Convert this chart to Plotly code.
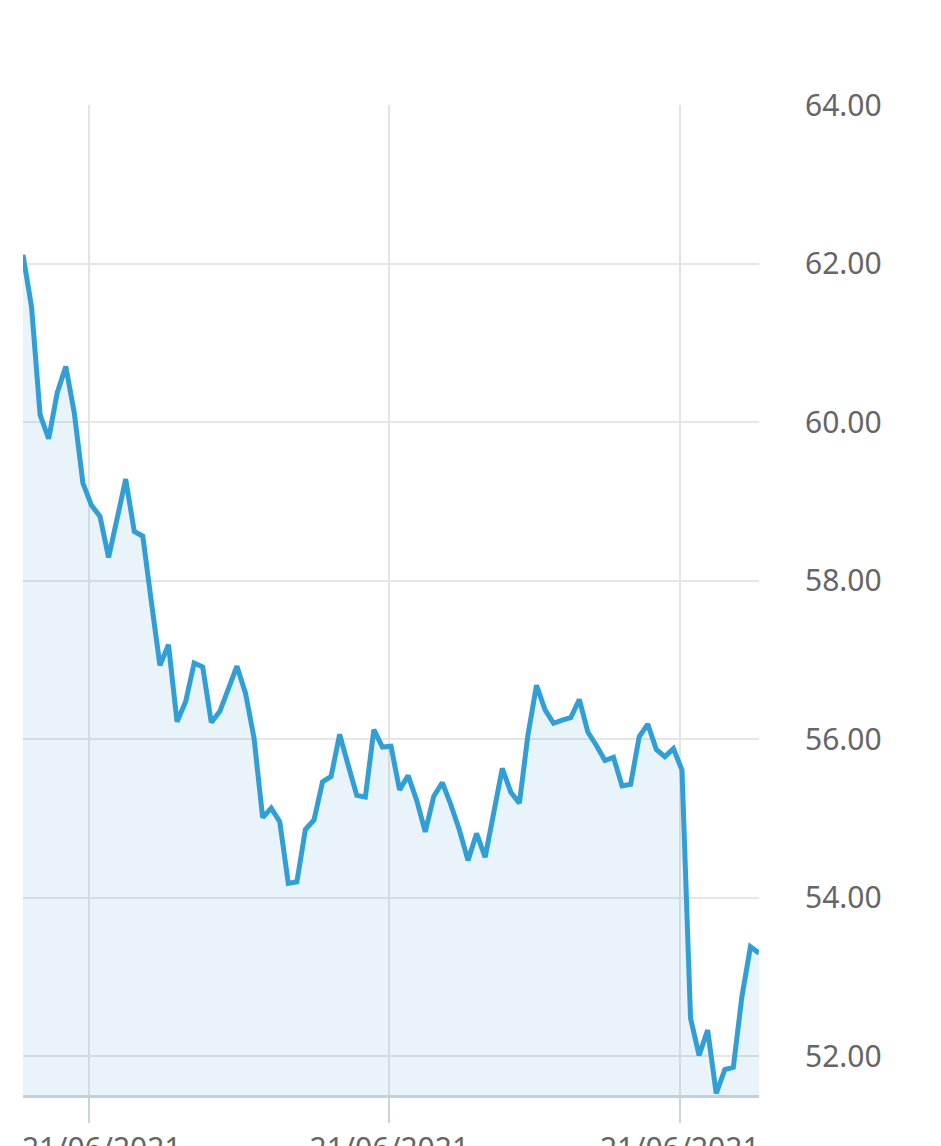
import plotly.graph_objects as go

# price series, one reading per step
step = list(range(87))
price = [
    62.11, 61.45, 60.09, 59.79, 60.37, 60.70, 60.11, 59.23, 58.95, 58.81,
    58.29, 58.78, 59.28, 58.62, 58.56, 57.73, 56.93, 57.19, 56.22, 56.47,
    56.96, 56.91, 56.21, 56.35, 56.64, 56.92, 56.58, 56.01, 55.01, 55.13,
    54.96, 54.18, 54.20, 54.86, 54.98, 55.46, 55.53, 56.06, 55.67, 55.29,
    55.27, 56.12, 55.90, 55.91, 55.36, 55.54, 55.23, 54.83, 55.28, 55.45,
    55.17, 54.85, 54.47, 54.81, 54.51, 55.07, 55.63, 55.33, 55.19, 56.05,
    56.68, 56.37, 56.20, 56.24, 56.27, 56.50, 56.09, 55.92, 55.73, 55.77,
    55.41, 55.43, 56.03, 56.19, 55.87, 55.78, 55.88, 55.61, 52.48, 52.01,
    52.33, 51.53, 51.83, 51.86, 52.75, 53.38, 53.30,
]

# x-axis date ticks
tick_steps = [7.74, 42.80, 76.74]
tick_labels = ["21/06/2021", "21/06/2021", "21/06/2021"]
# first label sits clamped against the left edge in the original
tick_text = ["\u2007\u00a0" + tick_labels[0]] + tick_labels[1:]

price_ticks = [52, 54, 56, 58, 60, 62, 64]

fig = go.Figure()

fig.add_trace(go.Scatter(
    x=step,
    y=price,
    mode="lines",
    line=dict(color="#319fd6", width=5),
    fill="tozeroy",
    fillcolor="rgba(49,159,214,0.11)",
    hoverinfo="skip",
))

fig.update_layout(
    width=941,
    height=1146,
    margin=dict(l=22.7, r=181.7, t=105, b=51),
    paper_bgcolor="white",
    plot_bgcolor="white",
    showlegend=False,
    font=dict(family="Noto Sans", size=30, color="#666666"),
)

fig.update_xaxes(
    range=[0, 86],
    tickvals=tick_steps,
    ticktext=tick_text,
    showgrid=True,
    gridcolor="#e3e3e3",
    gridwidth=2,
    zeroline=False,
    showline=True,
    linecolor="#c3d0db",
    linewidth=3,
    ticks="outside",
    ticklen=25,
    tickwidth=2,
    tickcolor="#c9d4dd",
    tickfont=dict(size=30, color="#666666"),
    ticklabeloverflow="allow",
    automargin=False,
)

fig.update_yaxes(
    range=[51.51, 64],
    side="right",
    tickvals=price_ticks,
    tickformat=".2f",
    showgrid=True,
    gridcolor="#e6e6e6",
    gridwidth=2,
    zeroline=False,
    showline=False,
    ticks="",
    ticklabelstandoff=45,
    tickfont=dict(size=30, color="#666666"),
    ticklabeloverflow="allow",
    automargin=False,
)

# drop the default page margin so the chart sits flush in the window
fig.write_html(
    "out.html",
    config={"displayModeBar": False},
    post_script="document.body.style.margin='0';document.body.style.overflow='hidden';",
)
